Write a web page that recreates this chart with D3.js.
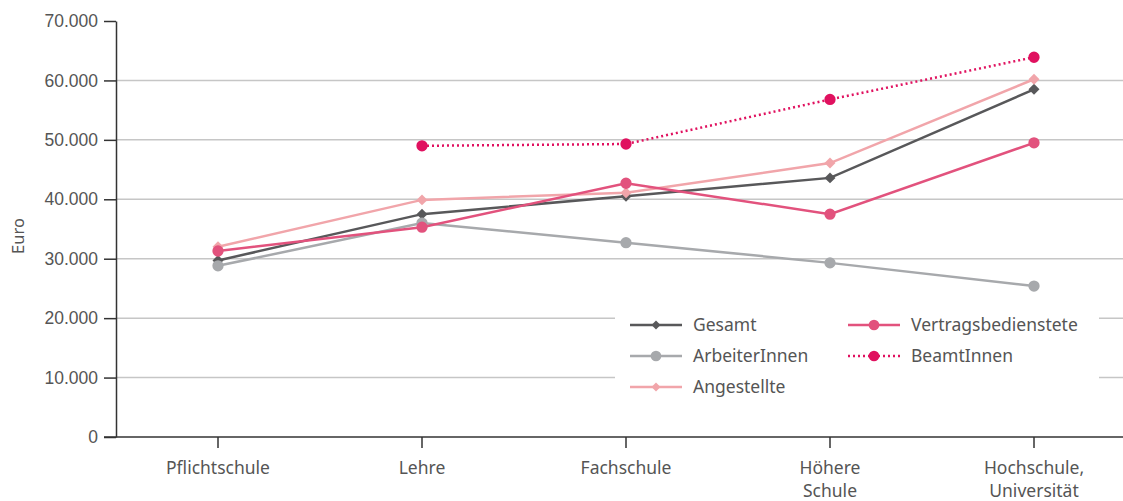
<!DOCTYPE html>
<html>
<head>
<meta charset="utf-8">
<script src="https://cdn.jsdelivr.net/npm/d3@7"></script>
<style>
  body { margin: 0; background: #fff; }
  svg { display: block; font-family: "Noto Sans", "Open Sans", sans-serif; }
</style>
</head>
<body>
<svg width="1123" height="501"></svg>
<script>
// Kategorien (x-Achse), zweizeilige Beschriftung
const categories = ["Pflichtschule", "Lehre", "Fachschule", "Höhere Schule", "Hochschule, Universität"];
const categoryLines = [["Pflichtschule"], ["Lehre"], ["Fachschule"], ["Höhere", "Schule"], ["Hochschule,", "Universität"]];

// Werte je Reihe (Euro), null = kein Wert
const gesamt = [29700, 37500, 40500, 43600, 58500];
const arbeiterInnen = [28800, 36000, 32700, 29300, 25400];
const angestellte = [32000, 39900, 41100, 46100, 60200];
const vertragsbedienstete = [31300, 35300, 42700, 37500, 49500];
const beamtInnen = [null, 49000, 49300, 56800, 63900];

const yTicks = [0, 10000, 20000, 30000, 40000, 50000, 60000, 70000];

const series = [
  { name: "Gesamt", values: gesamt, color: "#58585a", symbol: "diamond", dash: null },
  { name: "ArbeiterInnen", values: arbeiterInnen, color: "#a7a9ac", symbol: "circle", dash: null },
  { name: "Angestellte", values: angestellte, color: "#f1a5aa", symbol: "diamond", dash: null },
  { name: "Vertragsbedienstete", values: vertragsbedienstete, color: "#e2527d", symbol: "circle", dash: null },
  { name: "BeamtInnen", values: beamtInnen, color: "#e0115f", symbol: "circle", dash: "2,3" }
];

const width = 1123, height = 501;
const margin = { top: 21, right: 0, bottom: 64, left: 116 };

const svg = d3.select("svg");

const x = d3.scaleBand()
  .domain(categories)
  .range([margin.left, margin.left + categories.length * 204])
  .padding(0);

const y = d3.scaleLinear()
  .domain([0, 70000])
  .range([height - margin.bottom, margin.top]);

const cx = d => x(d) + x.bandwidth() / 2;
const fmt = v => v === 0 ? "0" : d3.format(",")(v).replace(/,/g, ".");

// Gitterlinien
svg.append("g")
  .selectAll("line")
  .data(yTicks.filter(t => t > 0 && t < 70000))
  .join("line")
  .attr("x1", margin.left).attr("x2", width)
  .attr("y1", d => y(d)).attr("y2", d => y(d))
  .attr("stroke", "#c6c6c6").attr("stroke-width", 1.5);

// Y-Achse
const yAxis = svg.append("g")
  .attr("transform", `translate(${margin.left},0)`)
  .call(d3.axisLeft(y).tickValues(yTicks).tickFormat(fmt).tickSize(12).tickPadding(6).tickSizeOuter(0));
yAxis.select(".domain").attr("stroke", "#333").attr("stroke-width", 1.5);
yAxis.selectAll(".tick line").attr("stroke", "#333").attr("stroke-width", 1.5);
yAxis.selectAll(".tick text").attr("fill", "#555").attr("font-size", 17.5);

// X-Achse
const xAxisG = svg.append("g")
  .attr("transform", `translate(0,${y(0)})`);
xAxisG.append("line")
  .attr("x1", margin.left - 12).attr("x2", width)
  .attr("stroke", "#333").attr("stroke-width", 1.5);
const xt = xAxisG.selectAll("g.xt")
  .data(categories)
  .join("g")
  .attr("class", "xt")
  .attr("transform", d => `translate(${cx(d)},0)`);
xt.append("line").attr("y2", 11).attr("stroke", "#333").attr("stroke-width", 1.5);
xt.append("text")
  .attr("text-anchor", "middle")
  .attr("fill", "#555")
  .attr("font-size", 17.5)
  .selectAll("tspan")
  .data((d, i) => categoryLines[i])
  .join("tspan")
  .attr("x", 0)
  .attr("y", (d, i) => 37 + i * 23)
  .text(d => d);

// Achsentitel
svg.append("text")
  .attr("transform", `translate(24,${(y(0) + y(70000)) / 2 + 7}) rotate(-90)`)
  .attr("text-anchor", "middle")
  .attr("fill", "#555")
  .attr("font-size", 16.5)
  .text("Euro");

// Linien
const line = d3.line()
  .defined(d => d.v !== null)
  .x(d => cx(d.c))
  .y(d => y(d.v));

const symbolPath = (s) => s === "diamond"
  ? d3.symbol().type(d3.symbolSquare).size(60)()
  : d3.symbol().type(d3.symbolCircle).size(100)();

series.forEach(s => {
  const pts = categories.map((c, i) => ({ c, v: s.values[i] }));
  svg.append("path")
    .datum(pts)
    .attr("d", line)
    .attr("fill", "none")
    .attr("stroke", s.color)
    .attr("stroke-width", 2.5)
    .attr("stroke-dasharray", s.dash);
  svg.append("g")
    .selectAll("path")
    .data(pts.filter(d => d.v !== null))
    .join("path")
    .attr("d", symbolPath(s.symbol))
    .attr("transform", d => `translate(${cx(d.c)},${y(d.v)})` + (s.symbol === "diamond" ? " rotate(45)" : ""))
    .attr("fill", s.color);
});

// Legende
const legend = svg.append("g").attr("transform", "translate(615,306)");
legend.append("rect")
  .attr("width", 484).attr("height", 96)
  .attr("fill", "#fff");
const legendPos = [[0, 0], [0, 1], [0, 2], [1, 0], [1, 1]];
series.forEach((s, i) => {
  const [col, row] = legendPos[i];
  const g = legend.append("g")
    .attr("transform", `translate(${15 + col * 218},${19 + row * 31})`);
  g.append("line")
    .attr("x1", 0).attr("x2", 52)
    .attr("stroke", s.color).attr("stroke-width", 2.5)
    .attr("stroke-dasharray", s.dash);
  g.append("path")
    .attr("d", s.symbol === "diamond"
      ? d3.symbol().type(d3.symbolSquare).size(40)()
      : d3.symbol().type(d3.symbolCircle).size(90)())
    .attr("transform", `translate(26,0)` + (s.symbol === "diamond" ? " rotate(45)" : ""))
    .attr("fill", s.color);
  g.append("text")
    .attr("x", 63).attr("y", 6)
    .attr("fill", "#555")
    .attr("font-size", 17.5)
    .text(s.name);
});
</script>
</body>
</html>
